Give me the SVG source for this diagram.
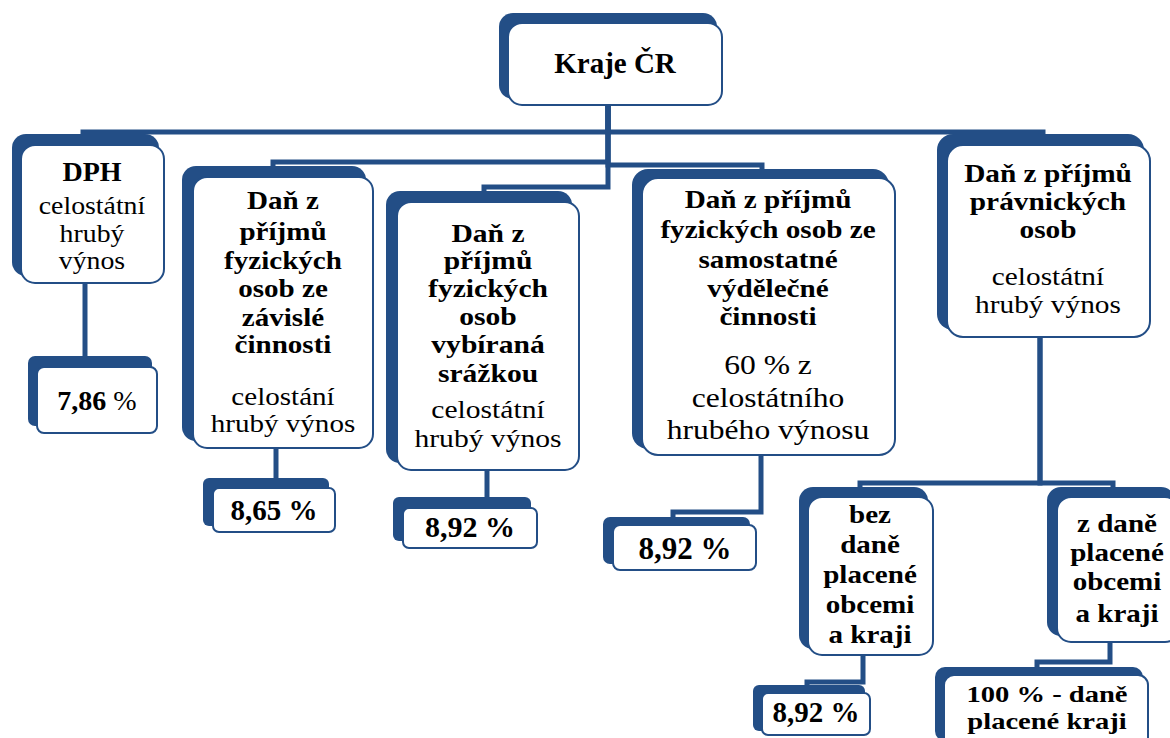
<svg xmlns="http://www.w3.org/2000/svg" width="1170" height="738" viewBox="0 0 1170 738">
<style>
.bk{fill:#234E86}
.wb{fill:#fff;stroke:#234E86;stroke-width:2}
.c{fill:none;stroke:#234E86;stroke-width:5}
text{font-family:"Liberation Serif","DejaVu Serif",serif;fill:#000;text-anchor:middle}
.b{font-weight:bold}
</style>
<rect width="1170" height="738" fill="#fff"/>
<g id="connectors">
<path class="c" d="M608,105 V132 H83 V137"/>
<path class="c" d="M608,105 V132 H1043 V137"/>
<path class="c" d="M608,105 V162 H273 V167"/>
<path class="c" d="M608,105 V165 H762 V171"/>
<path class="c" d="M608,105 V187 H484 V192"/>
<path class="c" d="M85,283 V358"/>
<path class="c" d="M276,448 V480"/>
<path class="c" d="M487,470 V499"/>
<path class="c" d="M761,455 V512 H673 V519"/>
<path class="c" d="M1040,337 V483 H860 V489"/>
<path class="c" d="M1040,337 V483 H1113 V489"/>
<path class="c" d="M863,655 V682 H807 V687"/>
<path class="c" d="M1110,642 V662 H1037 V669"/>
</g>
<g id="kraje">
<rect class="bk" x="499" y="13" width="218" height="86" rx="14"/>
<rect class="wb" x="508" y="23" width="214" height="82" rx="14"/>
<text class="b" x="615" y="73" font-size="29">Kraje ČR</text>
</g>
<g id="dph">
<rect class="bk" x="12" y="134" width="147" height="142" rx="14"/>
<rect class="wb" x="21" y="145" width="143" height="138" rx="14"/>
<text class="b" x="92" y="181" font-size="28">DPH</text>
<text transform="translate(92,0) scale(1.09,1)" font-size="25.5"><tspan x="0" y="214">celostátní</tspan><tspan x="0" y="242">hrubý</tspan><tspan x="0" y="269">výnos</tspan></text>
</g>
<g id="dph-pct">
<rect class="bk" x="28" y="356" width="124" height="70" rx="7"/>
<rect class="wb" x="37" y="367" width="120" height="66" rx="7"/>
<text x="97" y="410" font-size="28"><tspan class="b">7,86</tspan> %</text>
</g>
<g id="zavisle">
<rect class="bk" x="182" y="166" width="184" height="275" rx="14"/>
<rect class="wb" x="193" y="177" width="180" height="271" rx="14"/>
<text transform="translate(283,0) scale(1.14,1)" font-size="25.5"><tspan class="b" x="0" y="209">Daň z</tspan><tspan class="b" x="0" y="240">příjmů</tspan><tspan class="b" x="0" y="269">fyzických</tspan><tspan class="b" x="0" y="297">osob ze</tspan><tspan class="b" x="0" y="326">závislé</tspan><tspan class="b" x="0" y="353">činnosti</tspan><tspan x="0" y="405">celostání</tspan><tspan x="0" y="432">hrubý výnos</tspan></text>
</g>
<g id="zavisle-pct">
<rect class="bk" x="203" y="478" width="126" height="48" rx="6"/>
<rect class="wb" x="213" y="488" width="122" height="44" rx="6"/>
<text class="b" x="274" y="520" font-size="29">8,65 %</text>
</g>
<g id="srazkou">
<rect class="bk" x="386" y="191" width="186" height="272" rx="14"/>
<rect class="wb" x="397" y="202" width="182" height="268" rx="14"/>
<text transform="translate(488,0) scale(1.16,1)" font-size="25.5"><tspan class="b" x="0" y="242">Daň z</tspan><tspan class="b" x="0" y="269">příjmů</tspan><tspan class="b" x="0" y="297">fyzických</tspan><tspan class="b" x="0" y="325">osob</tspan><tspan class="b" x="0" y="353">vybíraná</tspan><tspan class="b" x="0" y="382">srážkou</tspan><tspan x="0" y="418">celostátní</tspan><tspan x="0" y="447">hrubý výnos</tspan></text>
</g>
<g id="srazkou-pct">
<rect class="bk" x="393" y="497" width="138" height="44" rx="6"/>
<rect class="wb" x="403" y="508" width="134" height="40" rx="6"/>
<text class="b" x="470" y="537" font-size="30">8,92 %</text>
</g>
<g id="samostatne">
<rect class="bk" x="632" y="169" width="257" height="280" rx="16"/>
<rect class="wb" x="642" y="178" width="253" height="277" rx="16"/>
<text class="b" transform="translate(768,0) scale(1.19,1)" font-size="24.5"><tspan x="0" y="208">Daň z příjmů</tspan><tspan x="0" y="238">fyzických osob ze</tspan><tspan x="0" y="268">samostatné</tspan><tspan x="0" y="297">výdělečné</tspan><tspan x="0" y="325">činnosti</tspan></text>
<text transform="translate(768,0) scale(1.17,1)" font-size="27"><tspan x="0" y="374">60 % z</tspan><tspan x="0" y="407">celostátního</tspan><tspan x="0" y="439">hrubého výnosu</tspan></text>
</g>
<g id="samostatne-pct">
<rect class="bk" x="603" y="517" width="147" height="47" rx="7"/>
<rect class="wb" x="613" y="525" width="143" height="45" rx="7"/>
<text class="b" x="685" y="559" font-size="31">8,92 %</text>
</g>
<g id="pravnicke">
<rect class="bk" x="937" y="134" width="207" height="196" rx="16"/>
<rect class="wb" x="947" y="145" width="203" height="192" rx="16"/>
<text transform="translate(1048,0) scale(1.15,1)" font-size="25.5"><tspan class="b" x="0" y="182">Daň z příjmů</tspan><tspan class="b" x="0" y="210">právnických</tspan><tspan class="b" x="0" y="238">osob</tspan><tspan x="0" y="285">celostátní</tspan><tspan x="0" y="313">hrubý výnos</tspan></text>
</g>
<g id="bez-dane">
<rect class="bk" x="799" y="487" width="129" height="162" rx="14"/>
<rect class="wb" x="808" y="497" width="125" height="158" rx="14"/>
<text class="b" transform="translate(870,0) scale(1.14,1)" font-size="25.5"><tspan x="0" y="523">bez</tspan><tspan x="0" y="553">daně</tspan><tspan x="0" y="583">placené</tspan><tspan x="0" y="613">obcemi</tspan><tspan x="0" y="643">a kraji</tspan></text>
</g>
<g id="bez-dane-pct">
<rect class="bk" x="753" y="685" width="112" height="46" rx="6"/>
<rect class="wb" x="762" y="693" width="108" height="42" rx="6"/>
<text class="b" x="816" y="722" font-size="29">8,92 %</text>
</g>
<g id="z-dane">
<rect class="bk" x="1047" y="487" width="128" height="149" rx="14"/>
<rect class="wb" x="1057" y="497" width="122" height="145" rx="14"/>
<text class="b" transform="translate(1117,0) scale(1.14,1)" font-size="25.5"><tspan x="0" y="532">z daně</tspan><tspan x="0" y="561">placené</tspan><tspan x="0" y="590">obcemi</tspan><tspan x="0" y="622">a kraji</tspan></text>
</g>
<g id="z-dane-pct">
<rect class="bk" x="935" y="667" width="208" height="74" rx="10"/>
<rect class="wb" x="944" y="675" width="204" height="72" rx="10"/>
<text class="b" transform="translate(1047,0) scale(1.19,1)" font-size="24"><tspan x="0" y="702">100 % - daně</tspan><tspan x="0" y="729">placené kraji</tspan></text>
</g>
</svg>
